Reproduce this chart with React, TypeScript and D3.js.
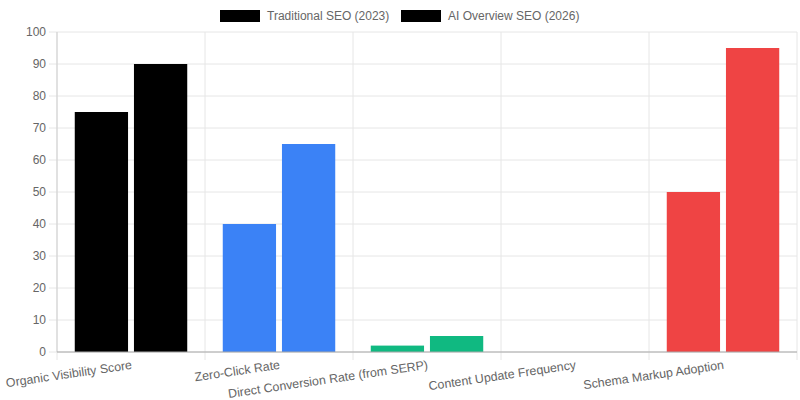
import React from "react";
import * as d3 from "d3";

const categories = [
  "Organic Visibility Score",
  "Zero-Click Rate",
  "Direct Conversion Rate (from SERP)",
  "Content Update Frequency",
  "Schema Markup Adoption",
];
const seriesNames = ["Traditional SEO (2023)", "AI Overview SEO (2026)"];
const traditional = [75, 40, 2, 0, 50];
const aiOverview = [90, 65, 5, 0, 95];
const barColors = ["#000000", "#3b82f6", "#10b981", "#f59e0b", "#ef4444"];
const yTicks = [0, 10, 20, 30, 40, 50, 60, 70, 80, 90, 100];

const W = 800;
const H = 400;
const left = 57;
const right = 797;
const top = 32;
const bottom = 352;

export default function App() {
  const x = d3.scaleBand<string>().domain(categories).range([left, right]).paddingInner(0).paddingOuter(0);
  const inner = d3.scaleBand<number>().domain([0, 1]).range([0, x.bandwidth() * 0.8]);
  const y = d3.scaleLinear().domain([0, 100]).range([bottom, top]);
  const series = [traditional, aiOverview];
  const slot = inner.bandwidth();
  const barW = slot * 0.9;
  const font = "'Liberation Sans', Arial, Helvetica, sans-serif";
  const textColor = "#666";
  const gridColor = "#e6e6e6";

  const gridXs = categories.map((c) => x(c)!).concat([right]);

  return (
    <div style={{ position: "absolute", left: 0, top: 0 }}>
      <svg width={W} height={H} style={{ display: "block", background: "#fff" }} fontFamily={font}>
        {/* horizontal grid */}
        {yTicks.map((t) => (
          <g key={"h" + t}>
            <line x1={left} x2={right} y1={y(t)} y2={y(t)} stroke={gridColor} strokeWidth={1} />
            <line x1={left - 8} x2={left} y1={y(t)} y2={y(t)} stroke={gridColor} strokeWidth={1} />
            <text x={46} y={y(t)} textAnchor="end" dominantBaseline="central" fontSize={12} fill={textColor}>
              {t}
            </text>
          </g>
        ))}
        {/* vertical grid */}
        {gridXs.map((gx, i) => (
          <g key={"v" + i}>
            <line x1={gx} x2={gx} y1={top} y2={bottom} stroke={gridColor} strokeWidth={1} />
            <line x1={gx} x2={gx} y1={bottom} y2={bottom + 8} stroke={gridColor} strokeWidth={1} />
          </g>
        ))}
        {/* bars */}
        {categories.map((c, ci) => {
          const start = x(c)! + x.bandwidth() * 0.1;
          return series.map((s, si) => {
            const v = s[ci];
            if (v <= 0) return null;
            const bx = start + inner(si)! + (slot - barW) / 2;
            return (
              <rect
                key={c + si}
                x={bx}
                y={y(v)}
                width={barW}
                height={bottom - y(v)}
                fill={barColors[ci]}
              />
            );
          });
        })}
        {/* axes lines */}
        <line x1={left} x2={left} y1={top} y2={bottom} stroke="#cfcfcf" strokeWidth={1} />
        <line x1={left} x2={right} y1={bottom} y2={bottom} stroke="#a8a8a8" strokeWidth={1} />
        {/* x labels */}
        {categories.map((c) => {
          const cx = x(c)! + x.bandwidth() / 2;
          return (
            <text
              key={"l" + c}
              transform={`translate(${cx},${359}) rotate(-8.3)`}
              textAnchor="end"
              dy="0.8em"
              fontSize={12.4}
              fill={textColor}
            >
              {c}
            </text>
          );
        })}
        {/* legend */}
        {seriesNames.map((n, i) => {
          const lx = i === 0 ? 220 : 401;
          return (
            <g key={"lg" + n}>
              <rect x={lx} y={10} width={40} height={12} fill="#000" />
              <text x={lx + 47} y={16} dominantBaseline="central" fontSize={12} fill={textColor}>
                {n}
              </text>
            </g>
          );
        })}
      </svg>
    </div>
  );
}
